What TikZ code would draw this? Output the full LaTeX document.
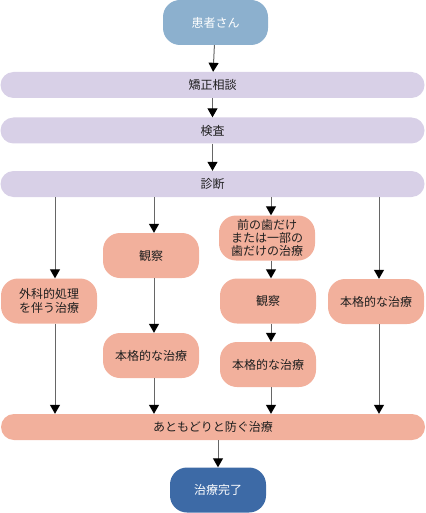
\documentclass[tikz,border=0pt]{standalone}
\usepackage{fontspec}
\setmainfont{Noto Sans CJK JP}
\usetikzlibrary{arrows.meta}
\definecolor{kanja}{HTML}{8CB0CE}
\definecolor{soudan}{HTML}{D8D0E7}
\definecolor{chiryo}{HTML}{F2B09C}
\definecolor{kanryo}{HTML}{3D6AA6}
\definecolor{sen}{HTML}{666666}
\begin{document}
\begin{tikzpicture}[x=1pt,y=-1pt,
	every node/.style={inner sep=0pt, text=black!88, align=center, font=\fontsize{12}{13.3}\selectfont},
	bar/.style={rounded corners=13pt, fill=soudan, minimum width=424pt, minimum height=26pt},
	box/.style={rounded corners=17pt, fill=chiryo, minimum width=96pt, minimum height=45pt},
	arr/.style={draw=sen, line width=1pt, -{Triangle[width=10pt,length=9pt,color=black]}}]
	\useasboundingbox (0,0) rectangle (425,513);

	\node[box, fill=kanja, minimum width=105pt, text=white] (kanja) at (215.5,22.5) {患者さん};
	\node[bar] (soudan) at (212.5,85) {矯正相談};
	\node[bar] (kensa) at (212.5,130.5) {検査};
	\node[bar] (shindan) at (212.5,184) {診断};

	\coordinate (c1) at (55,0);
	\coordinate (c2) at (154,0);
	\coordinate (c3) at (271,0);
	\coordinate (c4) at (379,0);

	\node[box] (geka) at (49,301) {外科的処理\\を伴う治療};
	\node[box] (kansatsu1) at (151,255.5) {観察};
	\node[box] (honkaku1) at (151,355.5) {本格的な治療};
	\node[box] (bubun) at (267,238) {前の歯だけ\\または一部の\\歯だけの治療};
	\node[box] (kansatsu2) at (268,301) {観察};
	\node[box] (honkaku2) at (268,364.5) {本格的な治療};
	\node[box] (honkaku3) at (376,301.5) {本格的な治療};

	\node[bar, fill=chiryo] (atomodori) at (213,427) {あともどりと防ぐ治療};
	\node[box, fill=kanryo, text=white] (kanryo) at (218,490) {治療完了};

	\draw[arr] (kanja) -- (soudan);
	\draw[arr] (soudan) -- (kensa);
	\draw[arr] (kensa) -- (shindan);

	\draw[arr] (shindan.south -| c1) -- (geka.north -| c1);
	\draw[arr] (geka.south -| c1) -- (atomodori.north -| c1);

	\draw[arr] (shindan.south -| c2) -- (kansatsu1.north -| c2);
	\draw[arr] (kansatsu1.south -| c2) -- (honkaku1.north -| c2);
	\draw[arr] (honkaku1.south -| c2) -- (atomodori.north -| c2);

	\draw[arr] (shindan.south -| c3) -- (bubun.north -| c3);
	\draw[arr] (bubun.south -| c3) -- (kansatsu2.north -| c3);
	\draw[arr] (kansatsu2.south -| c3) -- (honkaku2.north -| c3);
	\draw[arr] (honkaku2.south -| c3) -- (atomodori.north -| c3);

	\draw[arr] (shindan.south -| c4) -- (honkaku3.north -| c4);
	\draw[arr] (honkaku3.south -| c4) -- (atomodori.north -| c4);

	\draw[arr] (atomodori.south -| kanryo) -- (kanryo);
\end{tikzpicture}
\end{document}
